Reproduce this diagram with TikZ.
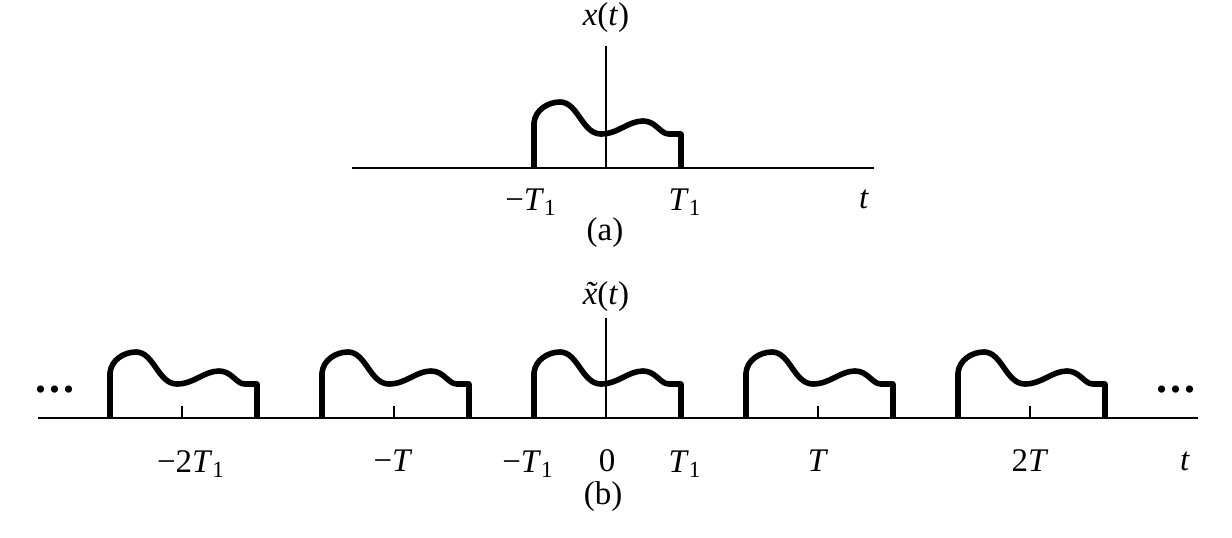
\documentclass[tikz,border=0pt]{standalone}
\usepackage{fontspec}
\setmainfont{Liberation Serif}
\newcommand\xtl{\setbox0\hbox{\itshape x}\rlap{\hbox to\wd0{\hss\itshape\char"02DC\hss}}\box0}
\newcommand\Tone{\textit{T}\textsubscript{1}}
\tikzset{
  axisline/.style={line width=1pt},
  tickline/.style={line width=1pt},
  pulseline/.style={line width=2.8pt, line join=round},
  lbl/.style={font=\fontsize{16.5}{18}\selectfont, inner sep=0pt},
  dotlbl/.style={font=\fontsize{22}{22}\selectfont\bfseries, inner sep=0pt},
  pulse/.pic={
    \draw[pulseline] (-72,0) -- (-72,-45)
      .. controls (-71,-58) and (-58,-66) .. (-46,-66)
      .. controls (-28,-66) and (-24,-34) .. (-5,-34)
      .. controls (12,-34) and (22,-47) .. (37,-47)
      .. controls (50,-47) and (54,-34) .. (63,-34)
      -- (75,-34) -- (75,0);
  }
}
\begin{document}
\begin{tikzpicture}[x=0.5pt,y=-0.5pt]
\useasboundingbox (0,0) rectangle (1232,537);
% ---------- (a) ----------
\coordinate (aL) at (352,168);
\coordinate (aR) at (874,168);
\coordinate (aO) at (606,168);
\coordinate (aTop) at (606,46);
\draw[axisline] (aL) -- (aR);
\draw[axisline] (aO) -- (aTop);
\pic at (aO) {pulse};
\node[lbl] (xa) at (606,18) {\textit{x}(\textit{t})};
\node[lbl] (amT) at (531,202) {−\Tone};
\node[lbl] (aT) at (685,202) {\Tone};
\node[lbl] (at) at (864,199) {\textit{t}};
\node[lbl] (acap) at (605,233) {(a)};
% ---------- (b) ----------
\coordinate (bL) at (38,418);
\coordinate (bR) at (1198,418);
\coordinate (bO) at (606,418);
\coordinate (bTop) at (606,318);
\draw[axisline] (bL) -- (bR);
\draw[axisline] (bO) -- (bTop);
\foreach \k in {-2,-1,0,1,2}{
  \coordinate (c\k) at ({606+212*\k},418);
  \pic at (c\k) {pulse};
}
\foreach \k in {-2,-1,1,2}{
  \coordinate (t\k) at ({606+212*\k},406);
  \draw[tickline] (c\k) -- (t\k);
}
\node[lbl] (xb) at (606,297) {\xtl(\textit{t})};
\node[dotlbl] (dl) at (55,390) {.\kern1.6pt.\kern1.6pt.};
\node[dotlbl] (dr) at (1176,390) {.\kern1.6pt.\kern1.6pt.};
\node[lbl] (bm2T) at (191,464) {−2\Tone};
\node[lbl] (bmT) at (393,461) {−\textit{T}};
\node[lbl] (bmT1) at (528,464) {−\Tone};
\node[lbl] (b0) at (607,461) {0};
\node[lbl] (bT1) at (685,464) {\Tone};
\node[lbl] (bT) at (818,461) {\textit{T}};
\node[lbl] (b2T) at (1030,461) {2\textit{T}};
\node[lbl] (bt) at (1185,461) {\textit{t}};
\node[lbl] (bcap) at (603,497) {(b)};
\end{tikzpicture}
\end{document}
